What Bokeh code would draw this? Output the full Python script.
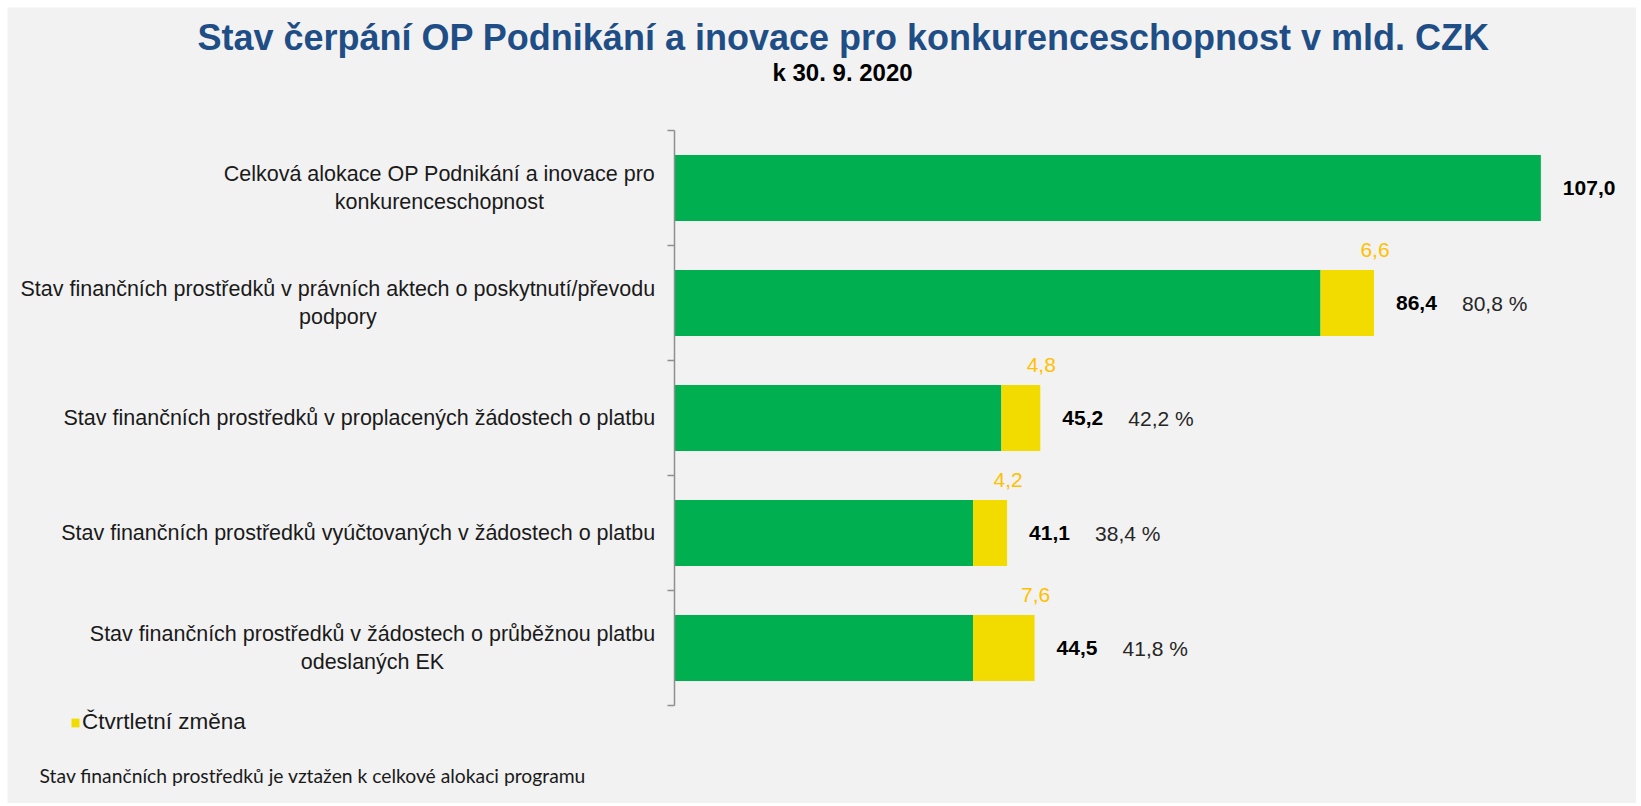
from bokeh.plotting import figure
from bokeh.models import (Range1d, FixedTicker, Legend, LegendItem,
                          ColumnDataSource, LinearAxis)
from bokeh.core.properties import value
from bokeh.embed import file_html
from bokeh.resources import INLINE

# ---------------- data ----------------
title_text = "Stav čerpání OP Podnikání a inovace pro konkurenceschopnost v mld. CZK"
subtitle_text = "k 30. 9. 2020"
categories = [
    "Celková alokace OP Podnikání a inovace pro\nkonkurenceschopnost",
    "Stav finančních prostředků v právních aktech o poskytnutí/převodu\npodpory",
    "Stav finančních prostředků v proplacených žádostech o platbu",
    "Stav finančních prostředků vyúčtovaných v žádostech o platbu",
    "Stav finančních prostředků v žádostech o průběžnou platbu\nodeslaných EK",
]
totals = [107.0, 86.4, 45.2, 41.1, 44.5]
changes = [0.0, 6.6, 4.8, 4.2, 7.6]
percents = [None, 80.8, 42.2, 38.4, 41.8]
legend_text = "Čtvrtletní změna"
footnote = "Stav finančních prostředků je vztažen k celkové alokaci programu"

# ---------------- styles ----------------
GREEN = "#00b050"
YELLOW = "#f2dc00"
LABEL_YELLOW = "#ffc000"
TITLE_BLUE = "#1f4e86"
BG = "#f2f2f2"
FONT = "Liberation Sans"

def fmt(v):
    return f"{v:.1f}".replace(".", ",")

n = len(categories)
ycent = [n - 0.5 - i for i in range(n)]
green = [t - c for t, c in zip(totals, changes)]

W, H = 1629, 796
OX, OY = 7, 7          # page offset of the figure (margin)
L = 4                  # width of the left axis panel
PXX = 8.0804           # px per x unit
PXY = 115.0            # px per y unit
X0 = 676               # page x of value 0
Y0 = 705               # page y of category bottom
xs = -(X0 - OX - L) / PXX
xe = xs + (W - L) / PXX
ys = -(OY + H - Y0) / PXY
ye = ys + H / PXY

def dx(px):
    return (px - X0) / PXX

def dy(py):
    return (Y0 - py) / PXY

p = figure(width=W, height=H, output_backend="svg", toolbar_location=None,
           x_range=Range1d(xs, xe), y_range=Range1d(ys, ye),
           x_axis_location=None, y_axis_location=None,
           min_border_left=0, min_border_right=0,
           min_border_top=0, min_border_bottom=0)
p.margin = (OY, 0, 0, OX)
p.background_fill_color = BG
p.border_fill_color = BG
p.outline_line_color = None
p.grid.visible = False

ticks = list(range(n + 1))
ax = LinearAxis(fixed_location=0, bounds=(0, n),
                ticker=FixedTicker(ticks=ticks))
ax.major_label_overrides = {t: "" for t in ticks}
ax.major_label_text_font_size = "0px"
ax.major_tick_out = 7
ax.major_tick_in = 0
ax.minor_tick_out = 0
ax.minor_tick_in = 0
ax.axis_line_color = "#8f8f8f"
ax.major_tick_line_color = "#8f8f8f"
ax.axis_line_width = 1.5
ax.major_tick_line_width = 1.5
p.add_layout(ax, "left")

BH = 66 / PXY  # bar thickness in y units

src = ColumnDataSource(dict(y=ycent, g=green, t=totals,
                            vt=[fmt(v) for v in totals],
                            cat=categories, cx=[0] * n))
p.hbar(y="y", left=0, right="g", height=BH, source=src,
       fill_color=GREEN, line_color=None)

idx = [i for i in range(n) if changes[i] > 0]
src_c = ColumnDataSource(dict(
    y=[ycent[i] for i in idx], g=[green[i] for i in idx],
    t=[totals[i] for i in idx],
    ylab=[ycent[i] + BH / 2 + 20 / PXY for i in idx],
    ct=[fmt(changes[i]) for i in idx],
    pt=[fmt(percents[i]) + " %" for i in idx]))
yb = p.hbar(y="y", left="g", right="t", height=BH, source=src_c,
            fill_color=YELLOW, line_color=None)

# value labels
p.text(x="t", y="y", text="vt", source=src, x_offset=22,
       text_baseline="middle", text_align="left",
       text_font=value(FONT), text_font_size="21px", text_font_style="bold",
       text_color="#000000")
# percentage labels
p.text(x="t", y="y", text="pt", source=src_c, x_offset=88,
       text_baseline="middle", text_align="left",
       text_font=value(FONT), text_font_size="21px", text_color="#262626")
# change labels
p.text(x="t", y="ylab", text="ct", source=src_c, x_offset=1,
       text_baseline="middle", text_align="center",
       text_font=value(FONT), text_font_size="21px", text_color=LABEL_YELLOW)

# category labels
p.text(x="cx", y="y", text="cat", source=src, x_offset=-19,
       anchor="center_right", text_align="center", text_baseline="middle",
       text_font=value(FONT), text_font_size="21.5px", text_color="#1a1a1a",
       text_line_height=1.2)

# title / subtitle / footnote
p.text(x=[dx(845)], y=[dy(36.5)], text=[title_text], text_align="center",
       text_baseline="middle", text_font=value(FONT),
       text_font_size="36px", text_font_style="bold", text_color=TITLE_BLUE)
p.text(x=[dx(844)], y=[dy(72)], text=[subtitle_text], text_align="center",
       text_baseline="middle", text_font=value(FONT),
       text_font_size="24px", text_font_style="bold", text_color="#000000")
p.text(x=[dx(43)], y=[dy(775)], text=[footnote], text_align="left",
       text_baseline="middle", text_font=value("Lato"),
       text_font_size="19.3px", text_color="#1a1a1a")

legend = Legend(items=[LegendItem(label=legend_text, renderers=[yb])],
                location=(63, 68), orientation="horizontal",
                background_fill_alpha=0, border_line_color=None,
                padding=0, margin=0, spacing=0, glyph_width=10,
                glyph_height=11, label_standoff=2, label_height=22,
                label_text_font=FONT, label_text_font_size="22.5px",
                label_text_color="#1a1a1a")
p.add_layout(legend)

open("out.html", "w").write(file_html(p, INLINE))
